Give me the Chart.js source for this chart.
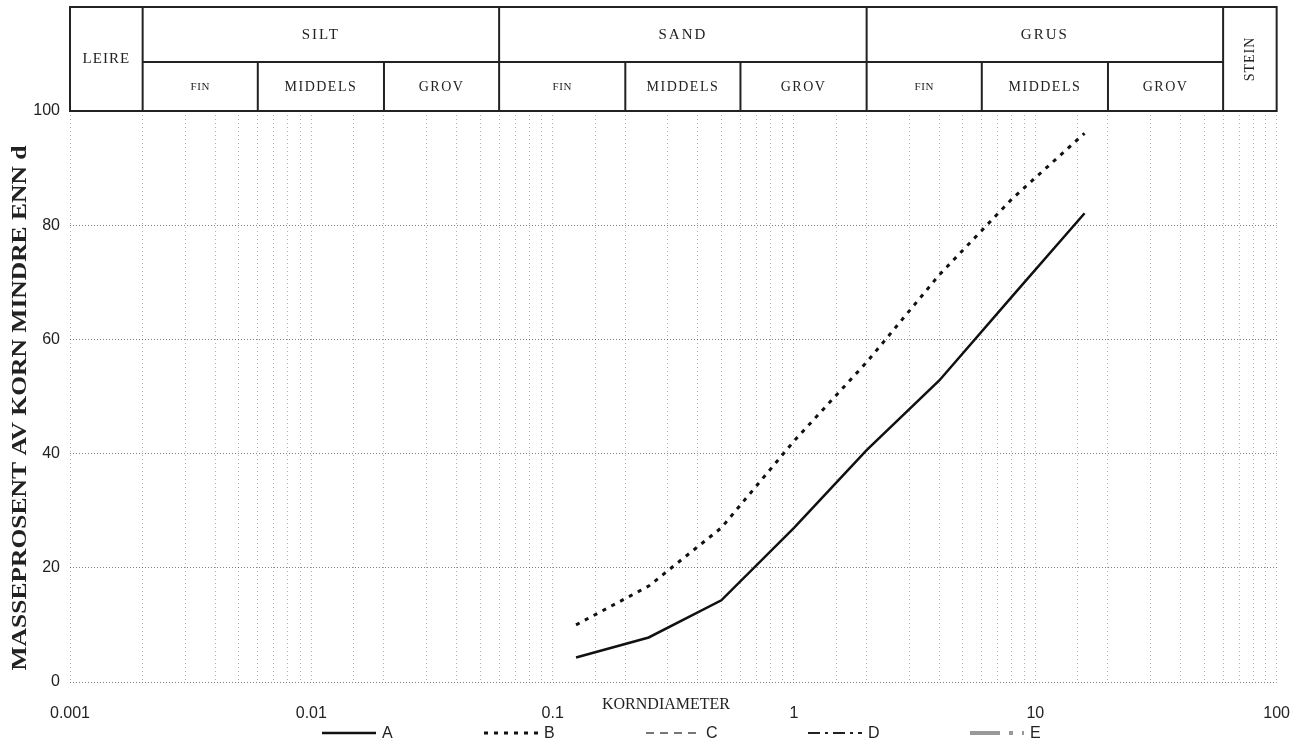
<!DOCTYPE html>
<html>
<head>
<meta charset="utf-8">
<title>Kornfordeling</title>
<script src="https://cdn.jsdelivr.net/npm/chart.js@4.4.1/dist/chart.umd.min.js"></script>
<style>
  html, body { margin: 0; padding: 0; background: #fff; }
  #wrap { width: 1312px; height: 743px; }
</style>
</head>
<body>
<div id="wrap"><canvas id="kornChart" width="1312" height="743"></canvas></div>
<script>
// Siktekurver: masseprosent mindre enn d
const sieveMm = [0.125, 0.25, 0.5, 1, 2, 4, 8, 16];
const passA = [4.3, 7.8, 14.3, 27.0, 40.6, 52.8, 67.5, 82.1];
const passB = [10.0, 16.8, 27.0, 42.2, 56.0, 71.3, 84.6, 96.1];
const seriesNames = ['A', 'B', 'C', 'D', 'E'];

const xTickValues = [0.001, 0.01, 0.1, 1, 10, 100];
const xTickLabels = ['0.001', '0.01', '0.1', '1', '10', '100'];
const yTickValues = [0, 20, 40, 60, 80, 100];

// Klassifisering (grenser i mm)
const mainNames  = ['LEIRE', 'SILT', 'SAND', 'GRUS', 'STEIN'];
const mainBounds = [0.001, 0.002, 0.06, 2, 60, 100];
const subNames   = ['FIN', 'MIDDELS', 'GROV'];
const siltBounds = [0.002, 0.006, 0.02, 0.06];
const sandBounds = [0.06, 0.2, 0.6, 2];
const grusBounds = [2, 6, 20, 60];

const xTitle = 'KORNDIAMETER';
const yTitle = 'MASSEPROSENT AV KORN MINDRE ENN d';

(function () {
  'use strict';

  const serif = '"Liberation Serif", "Times New Roman", serif';
  const sans  = '"Liberation Sans", Arial, sans-serif';
  const ink = '#222';

  const lineStyles = {
    A: { borderColor: '#111', borderWidth: 2.5, borderDash: [] },
    B: { borderColor: '#111', borderWidth: 3,   borderDash: [4, 6] },
    C: { borderColor: '#777', borderWidth: 2,   borderDash: [8, 6] },
    D: { borderColor: '#222', borderWidth: 2,   borderDash: [12, 5, 3, 5] },
    E: { borderColor: '#999', borderWidth: 4,   borderDash: [30, 9, 4, 9] }
  };
  const seriesData = { A: passA, B: passB, C: [], D: [], E: [] };

  const toPts = (ys) => ys.map((y, i) => ({ x: sieveMm[i], y }));

  const datasets = seriesNames.map(name => Object.assign({
    label: name,
    data: toPts(seriesData[name]),
    fill: false,
    tension: 0,
    pointRadius: 0,
    borderCapStyle: 'butt'
  }, lineStyles[name]));

  const sameLog = (a, b) => Math.abs(Math.log10(a) - Math.log10(b)) < 1e-6;

  // Tabellhode, aksetitler og forklaring
  const kornPlugin = {
    id: 'kornHeader',
    afterDraw(chart) {
      const { ctx, chartArea } = chart;
      const xs = chart.scales.x;
      const px = v => xs.getPixelForValue(v);
      const top = 7, mid = 62, bot = chartArea.top;

      ctx.save();
      ctx.strokeStyle = ink;
      ctx.lineWidth = 2;
      ctx.setLineDash([]);

      // ramme
      ctx.strokeRect(px(mainBounds[0]), top, px(mainBounds[5]) - px(mainBounds[0]), bot - top);
      ctx.beginPath();
      for (let i = 1; i < mainBounds.length - 1; i++) {
        const x = px(mainBounds[i]);
        ctx.moveTo(x, top); ctx.lineTo(x, bot);
      }
      ctx.moveTo(px(mainBounds[1]), mid); ctx.lineTo(px(mainBounds[4]), mid);
      [siltBounds, sandBounds, grusBounds].forEach(b => {
        for (let i = 1; i < b.length - 1; i++) {
          const x = px(b[i]);
          ctx.moveTo(x, mid); ctx.lineTo(x, bot);
        }
      });
      ctx.stroke();

      ctx.fillStyle = ink;
      ctx.textAlign = 'center';
      ctx.textBaseline = 'middle';
      const centre = (a, b) => (px(a) + px(b)) / 2;

      // LEIRE
      ctx.font = '15px ' + serif;
      ctx.letterSpacing = '1px';
      ctx.fillText(mainNames[0], centre(mainBounds[0], mainBounds[1]), (top + bot) / 2);

      // SILT / SAND / GRUS
      ctx.letterSpacing = '2px';
      for (let i = 1; i <= 3; i++) {
        ctx.fillText(mainNames[i], centre(mainBounds[i], mainBounds[i + 1]), (top + mid) / 2 + 1);
      }

      // FIN / MIDDELS / GROV
      [siltBounds, sandBounds, grusBounds].forEach(b => {
        for (let j = 0; j < 3; j++) {
          if (j === 0) { ctx.font = '11px ' + serif; ctx.letterSpacing = '0.5px'; }
          else { ctx.font = '14px ' + serif; ctx.letterSpacing = '1.5px'; }
          ctx.fillText(subNames[j], centre(b[j], b[j + 1]), (mid + bot) / 2 + 1);
        }
      });

      // STEIN (stående)
      ctx.save();
      ctx.font = '14px ' + serif;
      ctx.letterSpacing = '1px';
      ctx.translate(centre(mainBounds[4], mainBounds[5]), (top + bot) / 2);
      ctx.rotate(-Math.PI / 2);
      ctx.fillText(mainNames[4], 0, 0);
      ctx.restore();

      // x-tittel
      ctx.letterSpacing = '0px';
      ctx.font = '16px ' + serif;
      ctx.fillText(xTitle, 666, 705);

      // y-tittel, strukket til høyden
      ctx.save();
      ctx.font = 'bold 21px ' + serif;
      const w = ctx.measureText(yTitle).width;
      ctx.translate(21, 408);
      ctx.rotate(-Math.PI / 2);
      ctx.scale(525 / w, 1);
      ctx.fillText(yTitle, 0, 0);
      ctx.restore();

      // forklaring
      const ly = 733, x0 = 322, step = 162, len = 54;
      ctx.font = '16px ' + sans;
      ctx.textAlign = 'left';
      chart.data.datasets.forEach((ds, i) => {
        const x = x0 + i * step;
        ctx.save();
        ctx.strokeStyle = ds.borderColor;
        ctx.lineWidth = ds.borderWidth;
        ctx.setLineDash(ds.borderDash || []);
        ctx.beginPath();
        ctx.moveTo(x, ly); ctx.lineTo(x + len, ly);
        ctx.stroke();
        ctx.restore();
        ctx.fillText(ds.label, x + len + 6, ly + 1);
      });

      ctx.restore();
    }
  };

  new Chart(document.getElementById('kornChart'), {
    type: 'line',
    data: { datasets },
    options: {
      responsive: false,
      animation: false,
      layout: { padding: { top: 111, right: 30, bottom: 0, left: 0 } },
      plugins: { legend: { display: false }, tooltip: { enabled: false } },
      scales: {
        x: {
          type: 'logarithmic',
          min: xTickValues[0],
          max: xTickValues[xTickValues.length - 1],
          border: { display: false, dash: [1, 3] },
          grid: { color: 'rgba(0,0,0,0.3)', lineWidth: 1, drawTicks: false },
          ticks: {
            autoSkip: false,
            maxRotation: 0,
            padding: 22,
            color: ink,
            font: { family: sans, size: 16 },
            callback: (v) => {
              const i = xTickValues.findIndex(t => sameLog(v, t));
              return i >= 0 ? xTickLabels[i] : '';
            }
          },
          afterFit: (s) => { s.height = 61; }
        },
        y: {
          min: yTickValues[0],
          max: yTickValues[yTickValues.length - 1],
          border: { display: false, dash: [1, 2] },
          grid: {
            color: (c) => (c.tick && c.tick.value === 100) ? 'rgba(0,0,0,0)' : 'rgba(0,0,0,0.5)',
            lineWidth: 1,
            drawTicks: false
          },
          ticks: {
            stepSize: 20,
            padding: 10,
            color: ink,
            font: { family: sans, size: 16 }
          },
          afterFit: (s) => { s.width = 70; }
        }
      }
    },
    plugins: [kornPlugin]
  });
})();
</script>
</body>
</html>
